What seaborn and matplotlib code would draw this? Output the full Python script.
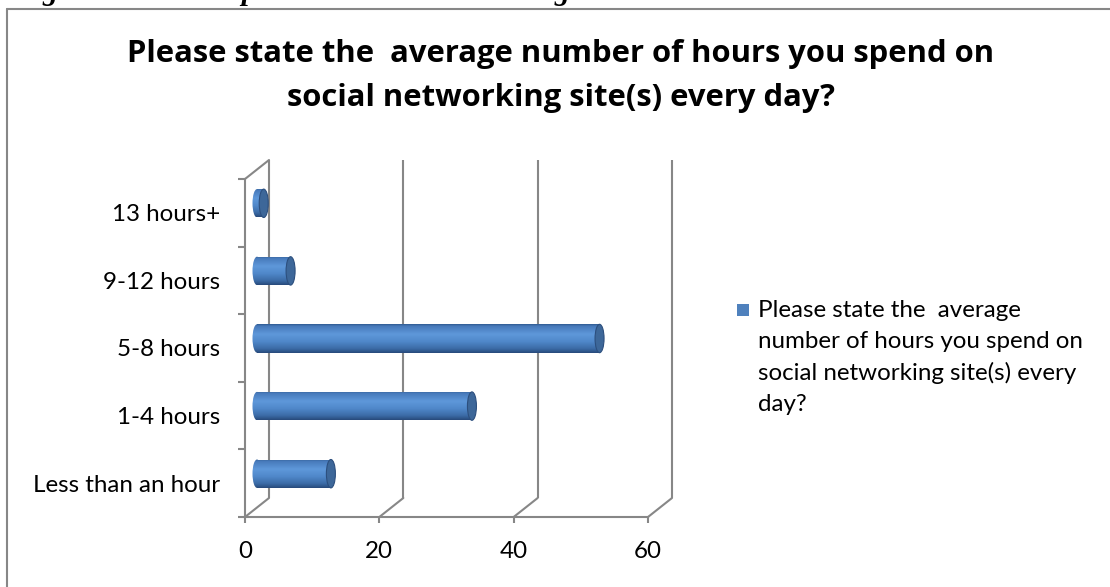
import numpy as np
import pandas as pd
import matplotlib
matplotlib.use("Agg")
import matplotlib.pyplot as plt
import seaborn as sns
from matplotlib.transforms import ScaledTranslation
from matplotlib.patches import Ellipse, Rectangle, ConnectionPatch
from matplotlib.lines import Line2D
from matplotlib.colors import LinearSegmentedColormap

# ---- data ----
categories = ["13 hours+", "9-12 hours", "5-8 hours", "1-4 hours", "Less than an hour"]
values = [1, 5, 51, 32, 11]
x_ticks = [0, 20, 40, 60]
title = ("Please state the  average number of hours you spend on\n"
         "social networking site(s) every day?")
series_name = ("Please state the  average\nnumber of hours you spend on\n"
               "social networking site(s) every\nday?")
caption = "Figure 3: Hours Spent on Social Networking Sites"

# ---- style ----
W, H, DPI = 1110, 587, 100
BAR_COLOR = "#4F81BD"
FRAME = "#878787"
LABEL_SIZE = 17.4
sns.set_theme(style="white")
plt.rcParams["font.family"] = ["Lato", "DejaVu Sans"]

fig = plt.figure(figsize=(W / DPI, H / DPI), dpi=DPI)
fig.patch.set_facecolor("white")

# front plane of the 3-D box (pixel edges)
L, R, T, B = 245, 648, 179, 517
ax = fig.add_axes([L / W, 1 - B / H, (R - L) / W, (B - T) / H])
ax.set_facecolor("none")

df = pd.DataFrame({"category": categories, "value": values})
sns.barplot(data=df, x="value", y="category", order=categories, width=0.42,
            color=BAR_COLOR, saturation=1, ax=ax, zorder=3)

xmax = x_ticks[-1]
ax.set_xlim(0, xmax)
ax.set_ylim(len(categories) - 0.5, -0.5)

# depth offsets: bars sit half way into the box, gridlines on the back wall
DX, DY = 0.24, 0.19  # inches
mid = ax.transData + ScaledTranslation(DX / 2, DY / 2, fig.dpi_scale_trans)
back = ax.transData + ScaledTranslation(DX, DY, fig.dpi_scale_trans)

# cylinder shading (top -> bottom)
cyl = LinearSegmentedColormap.from_list("cyl", [
    (0.00, "#2F5A90"), (0.07, "#4779BA"), (0.35, "#5E98DA"),
    (0.60, "#5088CA"), (0.85, "#3B6BA6"), (1.00, "#27497A")])
grad = np.linspace(0, 1, 256).reshape(-1, 1)
px_per_unit = (R - L) / xmax
cap_w = 9 / px_per_unit

for bar in list(ax.patches):
    bar.set_transform(mid)
    x0, y0 = bar.get_x(), bar.get_y()
    w, h = bar.get_width(), bar.get_height()
    bar.set_facecolor("none")
    bar.set_edgecolor("none")
    left_end = Ellipse((x0, y0 + h / 2), cap_w, h, transform=mid,
                       facecolor="none", edgecolor="none")
    ax.add_patch(left_end)
    for clip in (bar, left_end):
        im = ax.imshow(grad, cmap=cyl, extent=(x0 - cap_w, x0 + w, y0 + h, y0),
                       origin="upper", aspect="auto", interpolation="bilinear",
                       zorder=3)
        im.set_transform(mid)
        im.set_clip_path(clip)
    ax.add_patch(Ellipse((x0 + w, y0 + h / 2), cap_w, h, transform=mid,
                         facecolor="#3D6799", edgecolor="#2C4F7E", lw=0.8,
                         zorder=4))

ax.set_xlim(0, xmax)
ax.set_ylim(len(categories) - 0.5, -0.5)

# back-wall gridlines and floor / wall edges
lw = 1.5
y_lo, y_hi = len(categories) - 0.5, -0.5
for xv in x_ticks:
    ax.plot([xv, xv], [y_lo, y_hi], transform=back, color=FRAME, lw=lw,
            zorder=1, clip_on=False, solid_capstyle="butt")
    fig.add_artist(ConnectionPatch((xv, y_lo), (xv, y_lo), coordsA=ax.transData,
                                   coordsB=back, color=FRAME, lw=lw, zorder=1))
fig.add_artist(ConnectionPatch((0, y_hi), (0, y_hi), coordsA=ax.transData,
                               coordsB=back, color=FRAME, lw=lw, zorder=1))

for side in ("top", "right"):
    ax.spines[side].set_visible(False)
for side in ("left", "bottom"):
    ax.spines[side].set_color(FRAME)
    ax.spines[side].set_linewidth(lw)

ax.set_xticks(x_ticks)
ax.set_xticklabels([str(t) for t in x_ticks])
ax.set_yticks(np.arange(-0.5, len(categories), 1), minor=True)
ax.tick_params(axis="x", which="major", bottom=True, length=4.5, width=lw,
               color=FRAME, labelsize=LABEL_SIZE, pad=13, labelcolor="black")
ax.tick_params(axis="y", which="minor", left=True, length=5, width=lw, color=FRAME)
ax.tick_params(axis="y", which="major", left=False, length=0, pad=18,
               labelsize=LABEL_SIZE, labelcolor="black")
ax.set_xlabel("")
ax.set_ylabel("")

# title
fig.text(561 / W, 1 - 76 / H, title, ha="center", va="center", fontsize=22.3,
         family=["Open Sans", "DejaVu Sans"], fontweight="bold",
         linespacing=1.62, color="black")

# legend
fig.add_artist(Rectangle((737 / W, 1 - 316 / H), 12 / W, 12 / H,
                         transform=fig.transFigure, facecolor=BAR_COLOR,
                         edgecolor="none"))
fig.text(758 / W, 1 - 300 / H, series_name, ha="left", va="top",
         fontsize=LABEL_SIZE, linespacing=1.57, color="black")

# chart area border
fig.add_artist(Line2D([7 / W, 7 / W], [0, 1 - 9 / H], transform=fig.transFigure,
                      color=FRAME, lw=lw))
fig.add_artist(Line2D([7 / W, 1], [1 - 9 / H, 1 - 9 / H], transform=fig.transFigure,
                      color=FRAME, lw=lw))

# document caption above the chart
fig.text(15 / W, 1.0, caption, ha="left", va="baseline", fontsize=21.5,
         family="Liberation Serif", style="italic", weight="bold", color="black")

fig.savefig("out.png", dpi=DPI)
